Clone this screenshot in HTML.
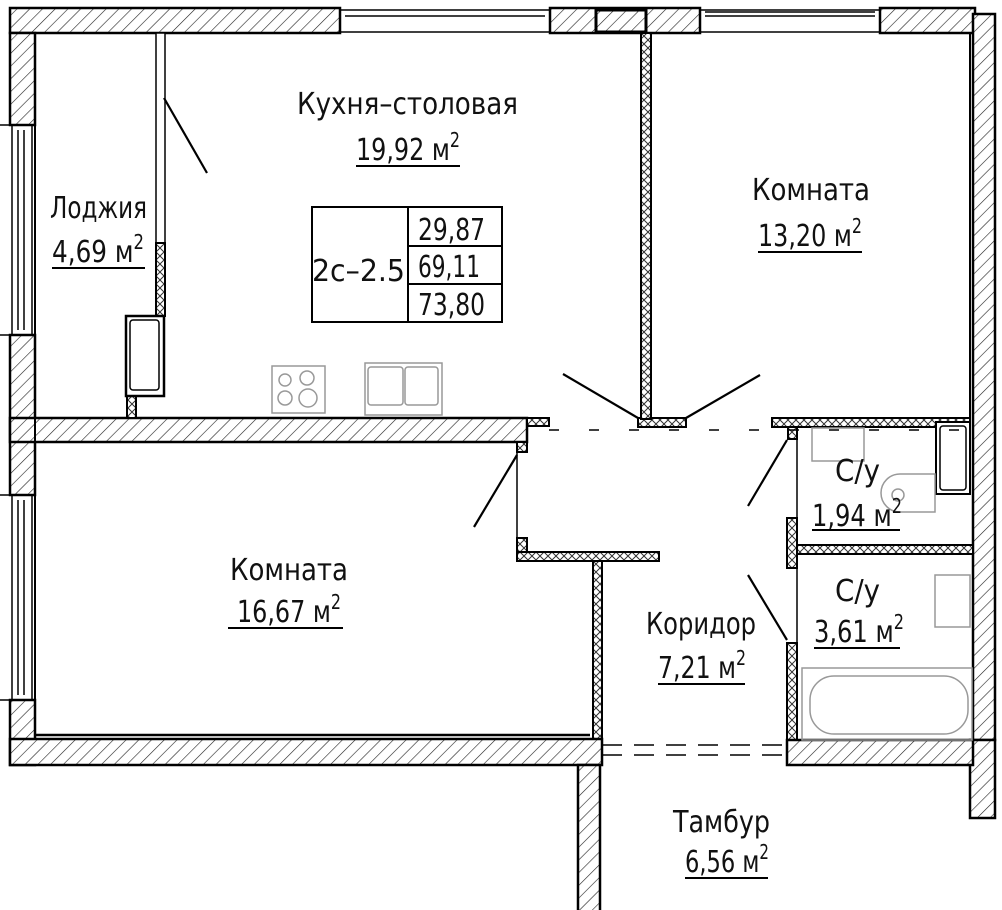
<!DOCTYPE html>
<html><head><meta charset="utf-8"><style>
html,body{margin:0;padding:0;background:#fff}
svg{display:block}
text{font-family:"DejaVu Sans Condensed","Liberation Sans Narrow","Liberation Sans",sans-serif;fill:#111}
</style></head><body>
<svg width="1002" height="910" viewBox="0 0 1002 910" xmlns="http://www.w3.org/2000/svg">
<defs>
<pattern id="h" width="9" height="9" patternUnits="userSpaceOnUse" patternTransform="rotate(45)">
<rect width="9" height="9" fill="#fff"/><line x1="0" y1="0" x2="0" y2="9" stroke="#222" stroke-width="1.2"/>
</pattern>
<pattern id="x" width="8" height="8" patternUnits="userSpaceOnUse">
<rect width="8" height="8" fill="#fff"/><path d="M0 0L8 8M8 0L0 8" stroke="#333" stroke-width="1"/>
</pattern>
</defs>
<g stroke="#000" stroke-width="2.5">
<rect x="10" y="8" width="330" height="25" fill="url(#h)"/>
<rect x="550" y="8" width="150" height="25" fill="url(#h)"/>
<rect x="596" y="10" width="50" height="22" fill="url(#h)" stroke-width="3"/>
<rect x="880" y="8" width="95" height="25" fill="url(#h)"/>
<rect x="10" y="33" width="25" height="92" fill="url(#h)"/>
<rect x="10" y="335" width="25" height="160" fill="url(#h)"/>
<rect x="10" y="700" width="25" height="65" fill="url(#h)"/>
<rect x="973" y="14" width="22" height="726" fill="url(#h)"/>
<rect x="970" y="740" width="25" height="78" fill="url(#h)"/>
<rect x="10" y="418" width="517" height="24" fill="url(#h)"/>
<rect x="527" y="418" width="22" height="8" fill="url(#x)" stroke-width="2"/>
<rect x="517" y="442" width="10" height="10" fill="url(#x)" stroke-width="2"/>
<rect x="638" y="418" width="48" height="9" fill="url(#x)" stroke-width="2"/>
<rect x="772" y="418" width="198" height="9" fill="url(#x)" stroke-width="2"/>
<rect x="788" y="427" width="9" height="12" fill="url(#x)" stroke-width="2"/>
<rect x="641" y="33" width="10" height="386" fill="url(#x)" stroke-width="2"/>
<rect x="156" y="33" width="9" height="210" fill="#fff" stroke-width="1.5"/>
<rect x="156" y="243" width="9" height="73" fill="url(#x)" stroke-width="2"/>
<rect x="127" y="396" width="9" height="22" fill="url(#x)" stroke-width="2"/>
<rect x="517" y="538" width="10" height="22" fill="url(#x)" stroke-width="2"/>
<rect x="517" y="552" width="142" height="9" fill="url(#x)" stroke-width="2"/>
<rect x="593" y="561" width="9" height="180" fill="url(#x)" stroke-width="2"/>
<rect x="787" y="518" width="10" height="50" fill="url(#x)" stroke-width="2"/>
<rect x="797" y="545" width="176" height="9" fill="url(#x)" stroke-width="2"/>
<rect x="787" y="643" width="10" height="97" fill="url(#x)" stroke-width="2"/>
<rect x="10" y="739" width="592" height="26" fill="url(#h)"/>
<rect x="787" y="740" width="186" height="25" fill="url(#h)"/>
<rect x="578" y="765" width="22" height="150" fill="url(#h)"/>
</g>
<g stroke="#000" stroke-width="1.5" fill="none">
<rect x="340" y="10" width="210" height="22"/>
<line x1="345" y1="16" x2="545" y2="16"/>
<rect x="700" y="10" width="180" height="22"/>
<line x1="705" y1="16" x2="875" y2="16"/><line x1="705" y1="12" x2="875" y2="12"/>
<rect x="12" y="125" width="20" height="210"/>
<line x1="18" y1="130" x2="18" y2="330"/><line x1="24" y1="130" x2="24" y2="330"/>
<rect x="12" y="495" width="20" height="205"/>
<line x1="18" y1="500" x2="18" y2="695"/><line x1="24" y1="500" x2="24" y2="695"/>
<line x1="0" y1="125" x2="12" y2="125"/><line x1="0" y1="335" x2="12" y2="335"/>
<line x1="0" y1="495" x2="12" y2="495"/><line x1="0" y1="700" x2="12" y2="700"/>
<line x1="35" y1="735" x2="590" y2="735" stroke-width="2.5"/>
<line x1="35" y1="33" x2="35" y2="735" stroke-width="2"/>
<line x1="970" y1="33" x2="970" y2="418" stroke-width="2"/>
</g>
<rect x="126" y="316" width="38" height="80" fill="#fff" stroke="#000" stroke-width="2.5"/>
<rect x="130" y="320" width="29" height="70" rx="3" fill="none" stroke="#000" stroke-width="1.5"/>
<rect x="936" y="422" width="34" height="72" fill="#fff" stroke="#000" stroke-width="2"/>
<rect x="940" y="426" width="26" height="64" rx="3" fill="none" stroke="#000" stroke-width="1.5"/>
<g stroke="#000" stroke-width="2.2">
<line x1="164" y1="98" x2="207" y2="173"/>
<line x1="563" y1="374" x2="638" y2="418"/>
<line x1="686" y1="418" x2="760" y2="375"/>
<line x1="517" y1="455" x2="474" y2="527"/>
<line x1="787" y1="440" x2="748" y2="506"/>
<line x1="787" y1="640" x2="748" y2="575"/>
</g>
<g stroke="#000" stroke-width="1.5" fill="none">
<line x1="517" y1="452" x2="517" y2="540"/>
<line x1="797" y1="440" x2="797" y2="545"/>
<line x1="797" y1="554" x2="797" y2="643"/>
<path d="M549 430H970" stroke-dasharray="10 30"/>
<path d="M602 745H787M602 755H787" stroke-dasharray="20 12"/>
</g>
<g stroke="#999" stroke-width="1.5" fill="none">
<rect x="272" y="366" width="53" height="47"/>
<circle cx="285" cy="380" r="6"/><circle cx="307" cy="378" r="7"/>
<circle cx="285" cy="398" r="7"/><circle cx="308" cy="398" r="9"/>
<rect x="365" y="363" width="77" height="52"/>
<rect x="368" y="367" width="35" height="38" rx="3"/><rect x="405" y="367" width="33" height="38" rx="3"/>
<rect x="812" y="428" width="52" height="33"/>
<path d="M935 474H900A19 19 0 0 0 900 512H935Z"/><circle cx="898" cy="495" r="6"/>
<rect x="935" y="575" width="35" height="52"/>
<rect x="802" y="668" width="170" height="72"/>
<rect x="810" y="676" width="158" height="58" rx="24"/>
</g>
<g stroke="#000" stroke-width="2" fill="none">
<rect x="312" y="207" width="190" height="115"/>
<line x1="408" y1="207" x2="408" y2="322"/>
<line x1="408" y1="246" x2="502" y2="246"/>
<line x1="408" y1="284" x2="502" y2="284"/>
</g>
<g font-size="30" lengthAdjust="spacingAndGlyphs">
<text x="312" y="281" textLength="93" lengthAdjust="spacingAndGlyphs">2с–2.5</text>
<text x="418" y="240" textLength="67" lengthAdjust="spacingAndGlyphs">29,87</text>
<text x="418" y="277" textLength="62" lengthAdjust="spacingAndGlyphs">69,11</text>
<text x="418" y="315" textLength="67" lengthAdjust="spacingAndGlyphs">73,80</text>
</g>
<g font-size="30">
<text x="297" y="114" textLength="221" lengthAdjust="spacingAndGlyphs">Кухня–столовая</text>
<text x="356" y="160" textLength="104" lengthAdjust="spacingAndGlyphs">19,92 м<tspan dy="-13" font-size="20">2</tspan></text>
<text x="50" y="218" textLength="97" lengthAdjust="spacingAndGlyphs">Лоджия</text>
<text x="52" y="262" textLength="92" lengthAdjust="spacingAndGlyphs">4,69 м<tspan dy="-13" font-size="20">2</tspan></text>
<text x="752" y="200" textLength="118" lengthAdjust="spacingAndGlyphs">Комната</text>
<text x="758" y="246" textLength="104" lengthAdjust="spacingAndGlyphs">13,20 м<tspan dy="-13" font-size="20">2</tspan></text>
<text x="230" y="580" textLength="118" lengthAdjust="spacingAndGlyphs">Комната</text>
<text x="237" y="622" textLength="104" lengthAdjust="spacingAndGlyphs">16,67 м<tspan dy="-13" font-size="20">2</tspan></text>
<text x="646" y="634" textLength="110" lengthAdjust="spacingAndGlyphs">Коридор</text>
<text x="658" y="678" textLength="88" lengthAdjust="spacingAndGlyphs">7,21 м<tspan dy="-13" font-size="20">2</tspan></text>
<text x="835" y="481" textLength="45" lengthAdjust="spacingAndGlyphs">С/у</text>
<text x="812" y="526" textLength="90" lengthAdjust="spacingAndGlyphs">1,94 м<tspan dy="-13" font-size="20">2</tspan></text>
<text x="835" y="601" textLength="45" lengthAdjust="spacingAndGlyphs">С/у</text>
<text x="814" y="642" textLength="90" lengthAdjust="spacingAndGlyphs">3,61 м<tspan dy="-13" font-size="20">2</tspan></text>
<text x="673" y="832" textLength="97" lengthAdjust="spacingAndGlyphs">Тамбур</text>
<text x="685" y="872" textLength="84" lengthAdjust="spacingAndGlyphs">6,56 м<tspan dy="-13" font-size="20">2</tspan></text>
</g>
<g stroke="#000" stroke-width="2">
<line x1="356" y1="166" x2="460" y2="166"/>
<line x1="52" y1="268" x2="145" y2="268"/>
<line x1="758" y1="252" x2="862" y2="252"/>
<line x1="228" y1="628" x2="343" y2="628"/>
<line x1="658" y1="684" x2="745" y2="684"/>
<line x1="812" y1="530" x2="900" y2="530"/>
<line x1="814" y1="648" x2="900" y2="648"/>
<line x1="685" y1="878" x2="768" y2="878"/>
</g>
</svg>
</body></html>
